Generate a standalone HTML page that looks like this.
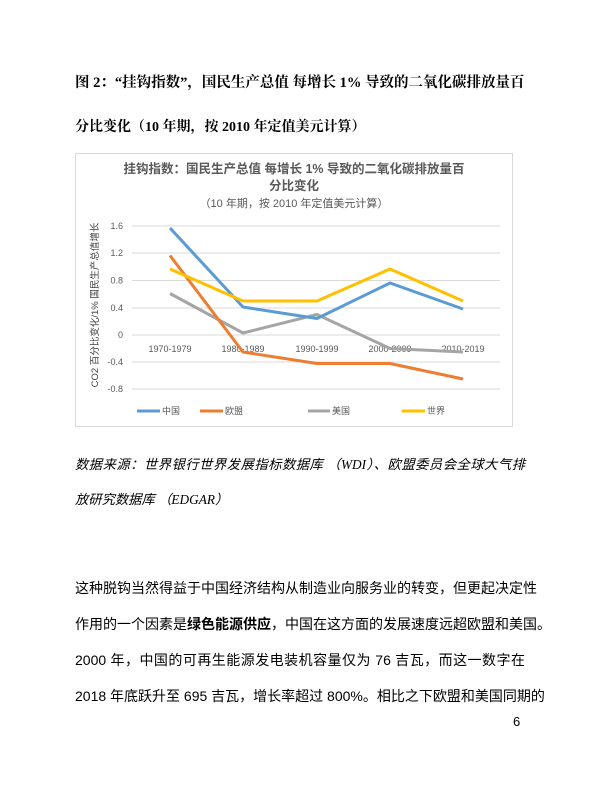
<!DOCTYPE html>
<html><head><meta charset="utf-8"><style>
body{margin:0;background:#fff;}
.p{position:relative;width:600px;height:793px;overflow:hidden;font-family:"Liberation Serif","Noto Serif CJK SC","Noto Sans CJK SC",serif;color:#000;}
.l{position:absolute;left:75px;width:450px;white-space:nowrap;text-align:justify;text-align-last:justify;line-height:20px;}
.h{font-weight:bold;font-size:14.5px;}
.s{font-style:italic;font-size:13.3px;font-family:"Liberation Serif","Noto Sans CJK SC",serif;}
.b{font-size:14px;font-family:"Liberation Sans","Noto Sans CJK SC",sans-serif;}
</style></head><body><div class="p">
<div class="l h" style="top:73px;width:447px">图 2：“挂钩指数”，国民生产总值 每增长 1% 导致的二氧化碳排放量百</div>
<div class="l h" style="top:118px;width:283px;font-size:14px">分比变化（10 年期，按 2010 年定值美元计算）</div>
<svg style="position:absolute;left:0;top:0" width="600" height="793" font-family="Liberation Sans,Noto Sans CJK SC,sans-serif">
<rect x="75.5" y="153.5" width="437" height="273" fill="#fff" stroke="#d9d9d9"/>
<text x="294" y="173" text-anchor="middle" font-size="12.5" font-weight="bold" fill="#595959">挂钩指数：国民生产总值 每增长 1% 导致的二氧化碳排放量百</text>
<text x="294" y="190" text-anchor="middle" font-size="12.5" font-weight="bold" fill="#595959">分比变化</text>
<text x="294" y="207" text-anchor="middle" font-size="11" fill="#595959">（10 年期，按 2010 年定值美元计算）</text>
<g stroke="#d9d9d9" stroke-width="1">
<line x1="132" x2="500" y1="226" y2="226"/><line x1="132" x2="500" y1="253" y2="253"/><line x1="132" x2="500" y1="280.5" y2="280.5"/><line x1="132" x2="500" y1="308" y2="308"/><line x1="132" x2="500" y1="335" y2="335"/><line x1="132" x2="500" y1="362" y2="362"/><line x1="132" x2="500" y1="389" y2="389"/>
</g>
<g font-size="9" fill="#595959" text-anchor="end">
<text x="123" y="229">1.6</text><text x="123" y="256">1.2</text><text x="123" y="283.5">0.8</text><text x="123" y="311">0.4</text><text x="123" y="338">0</text><text x="123" y="365">-0.4</text><text x="123" y="392">-0.8</text>
</g>
<text transform="translate(98,305) rotate(-90)" text-anchor="middle" font-size="9.5" fill="#404040">CO2 百分比变化/1% 国民生产总值增长</text>
<g font-size="9" fill="#595959" text-anchor="middle">
<text x="170" y="352">1970-1979</text><text x="243" y="352">1980-1989</text><text x="317" y="352">1990-1999</text><text x="390" y="352">2000-2009</text><text x="463" y="352">2010-2019</text>
</g>
<g fill="none" stroke-width="3" stroke-linejoin="round">
<polyline stroke="#a5a5a5" points="170,293.5 243,333 317,314.5 390,348.5 463,352"/>
<polyline stroke="#ed7d31" points="170,255.5 243,352 317,363.5 390,363.5 463,379"/>
<polyline stroke="#5b9bd5" points="170,228 243,307 317,318.5 390,283 463,309"/>
<polyline stroke="#ffc000" points="170,269 243,301 317,301 390,269 463,301"/>
</g>
<g stroke-width="3"><line x1="137" x2="160" y1="411" y2="411" stroke="#5b9bd5"/><line x1="200" x2="223" y1="411" y2="411" stroke="#ed7d31"/><line x1="308" x2="330" y1="411" y2="411" stroke="#a5a5a5"/><line x1="402" x2="425" y1="411" y2="411" stroke="#ffc000"/></g>
<g font-size="9" fill="#595959"><text x="162" y="414">中国</text><text x="225" y="414">欧盟</text><text x="332" y="414">美国</text><text x="427" y="414">世界</text></g>
</svg>
<div class="l s" style="top:455px">数据来源：世界银行世界发展指标数据库 （WDI）、欧盟委员会全球大气排</div>
<div class="l s" style="top:490px;width:150px">放研究数据库 （EDGAR）</div>
<div class="l b" style="top:578px">这种脱钩当然得益于中国经济结构从制造业向服务业的转变，但更起决定性</div>
<div class="l b" style="top:614px;width:457px">作用的一个因素是<b>绿色能源供应</b>，中国在这方面的发展速度远超欧盟和美国。</div>
<div class="l b" style="top:650px">2000 年，中国的可再生能源发电装机容量仅为 76 吉瓦，而这一数字在</div>
<div class="l b" style="top:686px">2018 年底跃升至 695 吉瓦，增长率超过 800%。相比之下欧盟和美国同期的</div>
<div style="position:absolute;left:513px;top:714px;font-size:13px;font-family:'Liberation Sans',sans-serif">6</div>
</div></body></html>
